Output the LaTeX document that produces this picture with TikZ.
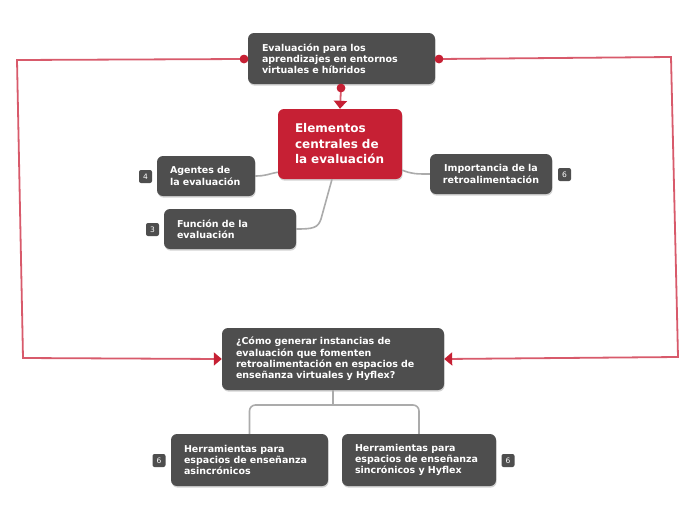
\documentclass[tikz,border=0pt]{standalone}
\usepackage{fontspec}
\setmainfont{DejaVu Sans}
\usetikzlibrary{arrows.meta,shadows,calc}
\definecolor{boxgray}{HTML}{4E4E4E}
\definecolor{mainred}{HTML}{C62034}
\definecolor{linkred}{HTML}{D85A6B}
\definecolor{linkgray}{HTML}{ABABAB}
\tikzset{
  topic/.style={draw=none, fill=boxgray, rounded corners=6pt, text=white,
    font=\bfseries\fontsize{9.5}{11.2}\selectfont, align=left, inner ysep=0pt,
    drop shadow={shadow xshift=0.6pt, shadow yshift=-1.6pt, opacity=0.35}},
  central/.style={draw=none, fill=mainred, rounded corners=6pt, text=white,
    font=\bfseries\fontsize{12}{15.5}\selectfont, align=left, inner ysep=0pt,
    drop shadow={shadow xshift=0.6pt, shadow yshift=-1.6pt, opacity=0.35}},
  badge/.style={draw=none, fill=boxgray, rounded corners=2pt, text=white,
    font=\fontsize{7.5}{8}\selectfont, minimum width=13pt, minimum height=13pt, inner sep=0pt},
  dotnode/.style={circle, fill=mainred, draw=none, minimum size=8.5pt, inner sep=0pt},
  redlink/.style={draw=linkred, line width=1.8pt},
  redarrow/.style={redlink, -{Triangle[width=13pt,length=8pt,color=mainred]}},
  graylink/.style={draw=linkgray, line width=1.6pt},
}
\begin{document}
\begin{tikzpicture}[x=1pt,y=-1pt]
\useasboundingbox[fill=white] (0,0) rectangle (696,520);

% nodes
\node[topic, minimum width=187pt, minimum height=51pt, inner xsep=14pt, text width=159pt]
  (top) at (341.5,58.5) {Evaluación para los\\aprendizajes en entornos\\virtuales e híbridos};
\node[central, minimum width=124pt, minimum height=70pt, inner xsep=17pt, text width=90pt]
  (cen) at (340,144) {Elementos\\centrales de\\la evaluación};
\node[topic, minimum width=98pt, minimum height=40pt, inner xsep=13pt, text width=72pt]
  (agentes) at (206,176) {Agentes de\\la evaluación};
\node[topic, minimum width=132pt, minimum height=40pt, inner xsep=13pt, text width=106pt]
  (funcion) at (230,229) {Función de la\\evaluación};
\node[topic, minimum width=122pt, minimum height=40pt, inner xsep=12pt, text width=98pt, align=center]
  (imp) at (491,174) {Importancia de la\\retroalimentación};
\node[topic, minimum width=222pt, minimum height=62pt, inner xsep=14pt, text width=194pt]
  (q) at (333,359) {¿Cómo generar instancias de\\evaluación que fomenten\\retroalimentación en espacios de\\enseñanza virtuales y Hyflex?};
\node[topic, minimum width=157pt, minimum height=52pt, inner xsep=13pt, text width=131pt]
  (h1) at (249.5,460) {Herramientas para\\espacios de enseñanza\\asincrónicos};
\node[topic, minimum width=154pt, minimum height=52pt, inner xsep=13pt, text width=128pt]
  (h2) at (419,460) {Herramientas para\\espacios de enseñanza\\sincrónicos y Hyflex};

% badges
\node[badge] (b4) at (145.5,176.5) {4};
\node[badge] (b3) at (152.5,229.5) {3};
\node[badge] (b6a) at (564.5,174.5) {6};
\node[badge] (b6b) at (159,460.5) {6};
\node[badge] (b6c) at (508,460.5) {6};

% gray connectors
\coordinate (cenL) at ($(cen.south west)+(0,-7)$);
\coordinate (cenR) at ($(cen.south east)+(0,-9)$);
\coordinate (cenB) at ($(cen.south)+(-8,0)$);
\draw[graylink] (cenL) .. controls (268,174) and (266,176) .. (agentes.east);
\draw[graylink] (cenR) .. controls (412,174) and (416,174) .. (imp.west);
\draw[graylink] (cenB) -- (321,219) .. controls (318,228) and (313,229) .. (funcion.east);
\coordinate (qj) at (333,405);
\draw[graylink] (q.south) -- (qj);
\draw[graylink, rounded corners=6pt] (h1.north) |- (qj) -| (h2.north);

% red connectors
\node[dotnode] (dl) at (244,59) {};
\node[dotnode] (dr) at (439,59) {};
\node[dotnode] (db) at (341,88) {};
\coordinate (l1) at (17,60);
\coordinate (l2) at (23,358);
\coordinate (r1) at (671,57);
\coordinate (r2) at (678,357);
\draw[redlink] (dl.center) -- (top.west);
\draw[redlink] (dr.center) -- (top.east);
\draw[redlink] (db.center) -- (top.south);
\draw[redarrow] (dl.center) -- (l1) -- (l2) -- (q.west);
\draw[redarrow] (dr.center) -- (r1) -- (r2) -- (q.east);
\draw[redarrow] (db.center) -- (cen.north);
\node[dotnode] (dl2) at (dl) {};
\node[dotnode] (dr2) at (dr) {};
\node[dotnode] (db2) at (db) {};
\end{tikzpicture}
\end{document}
